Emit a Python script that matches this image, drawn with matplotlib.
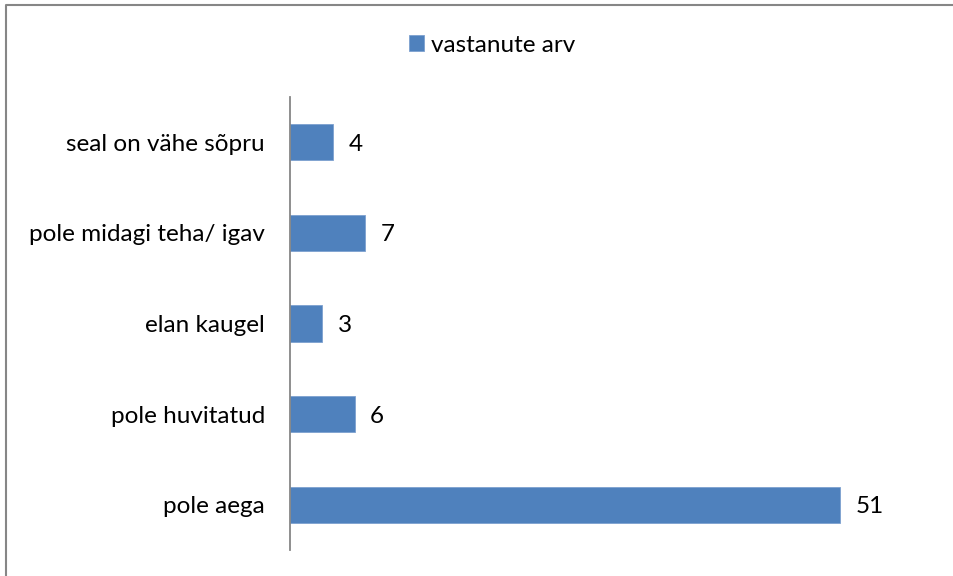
import matplotlib
matplotlib.use("Agg")
import matplotlib.pyplot as plt
from matplotlib.lines import Line2D

categories = ["pole aega", "pole huvitatud", "elan kaugel", "pole midagi teha/ igav", "seal on vähe sõpru"]
values = [51, 6, 3, 7, 4]
series_name = "vastanute arv"

plt.rcParams['font.family'] = ['Lato', 'DejaVu Sans']
fs = 17.5

fig = plt.figure(figsize=(9.54, 5.76), dpi=100)
bx, by = 6.5/954, 1 - 4.5/576
fig.lines.append(Line2D([bx, bx, 1.01], [-0.01, by, by], transform=fig.transFigure,
                        color='#868686', linewidth=1.5))
ax = fig.add_axes([290/954, 26/576, (937-290)/954, (479-26)/576])
y = list(range(len(categories)))
bars = ax.barh(y, values, height=0.4, color='#4F81BD', edgecolor='#7DA0CF', linewidth=0.6, label=series_name)
ax.set_xlim(0, 60)
ax.set_ylim(-0.5, len(categories) - 0.5)
ax.set_yticks(y)
ax.set_yticklabels(categories, fontsize=fs)
ax.tick_params(axis='y', length=0, pad=18)
ax.set_xticks([])
for s in ['top', 'right', 'bottom']:
    ax.spines[s].set_visible(False)
ax.spines['left'].set_color('#868686')
ax.spines['left'].set_linewidth(1.3)
for b, v in zip(bars, values):
    ax.annotate(str(v), (b.get_width(), b.get_y() + b.get_height()/2), xytext=(11, 0),
                textcoords='offset points', va='center_baseline', ha='left', fontsize=fs)
leg = fig.legend(handles=[bars], labels=[series_name], loc='center', bbox_to_anchor=(492/954, 1 - 45/576),
                 frameon=False, fontsize=fs, handlelength=0.6, handleheight=0.6, handletextpad=0.3)
fig.savefig("out.png", dpi=100)
